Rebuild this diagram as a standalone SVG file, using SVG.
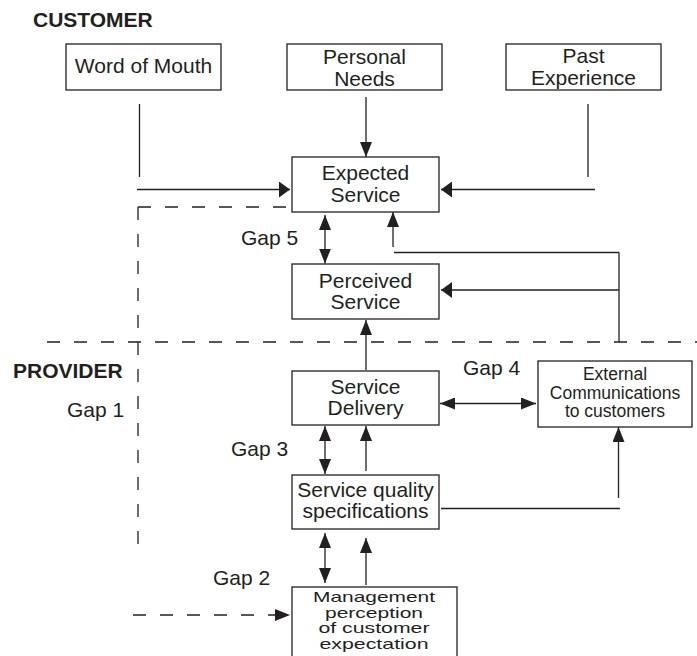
<svg xmlns="http://www.w3.org/2000/svg" width="697" height="656" viewBox="0 0 697 656">
<style>
text{font-family:"Liberation Sans",Arial,sans-serif;fill:#231f20}
.t{font-size:21px;text-anchor:middle}
.s{font-size:17.5px;text-anchor:middle}
.m{font-size:15px;text-anchor:middle}
.g{font-size:21px}
.h{font-size:21px;font-weight:bold}
rect{fill:#fff;stroke:#231f20;stroke-width:1.3}
.c line,.c path{stroke:#231f20;stroke-width:1.3;fill:none}
.c .d{stroke-dasharray:13 14}
</style>
<defs>
<marker id="a" viewBox="0 0 15 12" refX="15" refY="6" markerWidth="15" markerHeight="12" markerUnits="userSpaceOnUse" orient="auto-start-reverse"><path d="M0,0 L15,6 L0,12 z" fill="#231f20"/></marker>
<marker id="w" viewBox="0 0 11 16" refX="11" refY="8" markerWidth="11" markerHeight="16" markerUnits="userSpaceOnUse" orient="auto-start-reverse"><path d="M0,0 L11,8 L0,16 z" fill="#231f20"/></marker>
</defs>
<text class="h" x="33" y="27">CUSTOMER</text>
<text class="h" x="13" y="378">PROVIDER</text>
<text class="g" x="241" y="245">Gap 5</text>
<text class="g" x="67" y="417">Gap 1</text>
<text class="g" x="463" y="375">Gap 4</text>
<text class="g" x="231" y="456">Gap 3</text>
<text class="g" x="213" y="585">Gap 2</text>
<g class="c" id="connectors">
<line x1="139.5" y1="104" x2="139.5" y2="177"/>
<line x1="137" y1="189.5" x2="290" y2="189.5" marker-end="url(#w)"/>
<line x1="366" y1="97" x2="366" y2="157" marker-end="url(#a)"/>
<line x1="588" y1="104" x2="588" y2="177"/>
<line x1="595" y1="189.5" x2="441" y2="189.5" marker-end="url(#w)"/>
<line class="d" x1="138" y1="207" x2="297" y2="207"/>
<line class="d" x1="138" y1="207" x2="138" y2="553"/>
<line class="d" x1="47" y1="342" x2="697" y2="342"/>
<line x1="325" y1="215" x2="325" y2="263.5" marker-start="url(#a)" marker-end="url(#a)"/>
<line x1="393" y1="247" x2="393" y2="212" marker-end="url(#a)"/>
<line x1="394" y1="252.5" x2="619" y2="252.5"/>
<line x1="619" y1="252.5" x2="619" y2="342"/>
<line x1="619" y1="290" x2="441" y2="290" marker-end="url(#w)"/>
<line x1="366" y1="370" x2="366" y2="320" marker-end="url(#a)"/>
<line x1="440" y1="403.5" x2="536" y2="403.5" marker-start="url(#a)" marker-end="url(#a)"/>
<line x1="325" y1="426" x2="325" y2="474" marker-start="url(#a)" marker-end="url(#a)"/>
<line x1="366" y1="471" x2="366" y2="426" marker-end="url(#a)"/>
<line x1="441" y1="508.5" x2="620" y2="508.5"/>
<line x1="618.5" y1="498" x2="618.5" y2="427" marker-end="url(#a)"/>
<line x1="325" y1="533" x2="325" y2="583" marker-start="url(#a)" marker-end="url(#a)"/>
<line x1="366" y1="585" x2="366" y2="538" marker-end="url(#a)"/>
<line class="d" x1="133" y1="615" x2="290" y2="615" marker-end="url(#a)"/>
</g>
<g id="word-of-mouth"><rect x="66" y="44" width="155" height="46"/><text class="t" x="143.5" y="73">Word of Mouth</text></g>
<g id="personal-needs"><rect x="287" y="44" width="155" height="46"/><text class="t" x="364.5" y="64">Personal</text><text class="t" x="364.5" y="85.5">Needs</text></g>
<g id="past-experience"><rect x="506" y="44" width="155" height="46"/><text class="t" x="583.5" y="63">Past</text><text class="t" x="583.5" y="84.5">Experience</text></g>
<g id="expected-service"><rect x="292" y="157" width="147" height="55"/><text class="t" x="365.5" y="180">Expected</text><text class="t" x="365.5" y="201.5">Service</text></g>
<g id="perceived-service"><rect x="292" y="264" width="147" height="55"/><text class="t" x="365.5" y="287.5">Perceived</text><text class="t" x="365.5" y="308.5">Service</text></g>
<g id="service-delivery"><rect x="292" y="371" width="147" height="54"/><text class="t" x="365.5" y="393.5">Service</text><text class="t" x="365.5" y="414.5">Delivery</text></g>
<g id="external-communications"><rect x="538" y="361" width="154" height="66"/><text class="s" x="615" y="380">External</text><text class="s" x="615" y="398.5">Communications</text><text class="s" x="615" y="417">to customers</text></g>
<g id="service-quality-specifications"><rect x="292" y="475" width="147" height="54"/><text class="t" x="365.5" y="496.5">Service quality</text><text class="t" x="365.5" y="518">specifications</text></g>
<g id="management-perception"><rect x="292" y="587" width="165" height="80"/><text class="m" x="374" y="601.5" textLength="122" lengthAdjust="spacingAndGlyphs">Management</text><text class="m" x="374" y="617.5" textLength="98" lengthAdjust="spacingAndGlyphs">perception</text><text class="m" x="374" y="633" textLength="111" lengthAdjust="spacingAndGlyphs">of customer</text><text class="m" x="374" y="648.5" textLength="109" lengthAdjust="spacingAndGlyphs">expectation</text></g>
</svg>
